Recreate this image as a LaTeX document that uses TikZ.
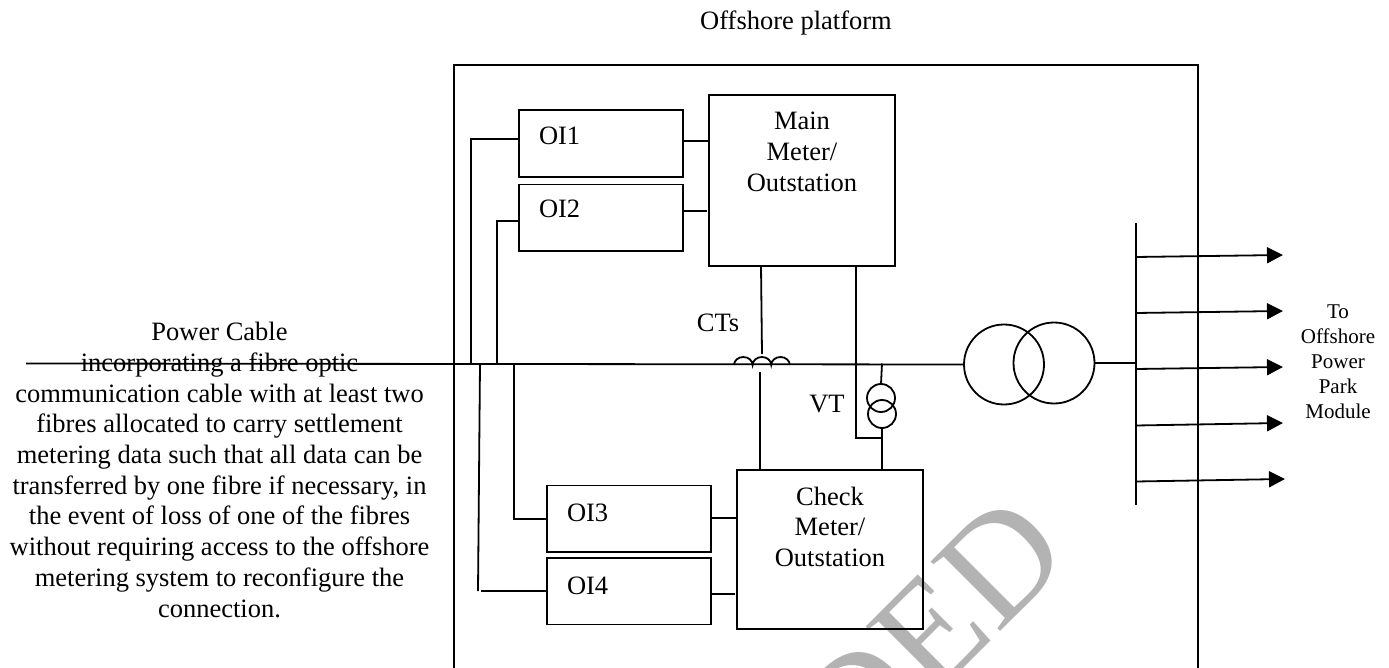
\documentclass[tikz,border=0pt]{standalone}
\usepackage{fontspec}
\setmainfont{Liberation Serif}
\usetikzlibrary{arrows.meta}
\definecolor{wm}{HTML}{B3B3B3}
\newcommand{\bigtxt}{\fontsize{26.5}{30.7}\selectfont}
\newcommand{\smalltxt}{\fontsize{21}{24.8}\selectfont}
\tikzset{
  x=1pt,y=-1pt,
  wire/.style={line width=1.8pt,line cap=butt,line join=miter},
  feeder/.style={wire,-{Triangle[length=16pt,width=16pt]},shorten >=-1pt},
  lbl/.style={font=\bigtxt,inner sep=0pt,outer sep=0pt,anchor=base},
  oibox/.style 2 args={draw,wire,anchor=north west,outer sep=0pt,inner xsep=20pt,inner ysep=0pt,
     text width=124pt,align=left,font=\bigtxt,text height=#1pt,text depth=#2pt},
  meterbox/.style 2 args={draw,wire,anchor=north west,outer sep=0pt,inner sep=0pt,
     text width=186pt,align=center,font=\bigtxt,text height=#1pt,text depth=#2pt},
  circ/.style={draw,wire,circle,inner sep=0pt,outer sep=0pt,minimum size=#1pt},
}
\begin{document}
\begin{tikzpicture}
\useasboundingbox (0,0) rectangle (1389,668);
% watermark (behind everything)
\node[font=\fontsize{150}{150}\selectfont,text=wm,rotate=45,anchor=base east,inner sep=0pt] (wmark) at (1074,558) {DED};
% platform outline
\draw[wire] (454,668) -- (454,65) -- (1198,65) -- (1198,668);
\node[lbl] (title) at (796,30) {Offshore platform};
% boxes
\node[oibox={35}{32}] (oi1) at (519,110) {OI1};
\node[oibox={33.5}{33}] (oi2) at (519,184.5) {OI2};
\node[oibox={36}{30.5}] (oi3) at (547,485.5) {OI3};
\node[oibox={36}{30.5}] (oi4) at (547,558) {OI4};
\node[meterbox={35}{136}] (main) at (709,95) {Main\\Meter/\\Outstation};
\node[meterbox={35}{124}] (check) at (737,470) {Check\\Meter/\\Outstation};
% transformer
\node[circ=80] (tx1) at (1004,364.5) {};
\node[circ=81] (tx2) at (1054,363) {};
% voltage transformer
\node[circ=28] (vt1) at (881,398) {};
\node[circ=28] (vt2) at (882,414) {};
% cable
\coordinate (cableend) at (26,363.5);
\draw[wire] (cableend) -- (tx1.west);
\draw[wire] (tx2.east) -- (1136,363);
% busbar
\coordinate (bustop) at (1136,223);
\coordinate (busbot) at (1136,505);
\draw[wire] (bustop) -- (busbot);
% CT coil
\coordinate (ctl) at (734,365);
\draw[wire] (ctl) arc[start angle=180,end angle=0,x radius=9.3pt,y radius=8pt]
   arc[start angle=180,end angle=0,x radius=9.3pt,y radius=8pt]
   arc[start angle=180,end angle=0,x radius=9.3pt,y radius=8pt];
% taps on cable
\coordinate (t1) at (471,363.5);
\coordinate (t2) at (497,363.5);
\coordinate (t3) at (480,363.5);
\coordinate (t4) at (514,363.5);
\coordinate (t4c) at (478,591);
\draw[wire] (oi1.west |- 0,139) -| (t1);
\draw[wire] (oi2.west |- 0,221) -| (t2);
\draw[wire] (t3) -- (t4c);
\draw[wire] (oi4.west |- 0,591) -- (481,591);
\draw[wire] (t4) |- (oi3.west |- 0,519);
% OI to meters
\draw[wire] (682,141) -- (main.west |- 0,141);
\draw[wire] (oi2.east |- 0,211) -- (707,211);
\draw[wire] (710,518) -- (check.west |- 0,518);
\draw[wire] (710,594) -- (735,594);
% metering connections
\coordinate (ctup) at (762,354);
\coordinate (ctdn) at (760,372);
\draw[wire] (761,266) -- (ctup);
\draw[wire] (ctdn) -- (760,470);
\coordinate (vtt) at (882,363.5);
\coordinate (vtj) at (882,438);
\draw[wire] (856,266) -- (856,438) -- (vtj);
\draw[wire] (vtt) -- (vt1.north);
\draw[wire] (vt2.south) -- (882,470);
% feeders
\foreach \n/\a/\b/\e in {1/257/255/1282,2/313/311/1282,3/369/367/1282,4/425.5/423/1282,5/481.5/479/1284}{
  \coordinate (fs\n) at (1136,\a);
  \coordinate (fe\n) at (\e,\b);
  \draw[feeder] (fs\n) -- (fe\n);
}
% labels
\node[lbl] (cts) at (718,331) {CTs};
\node[lbl] (vt) at (827,412) {VT};
\node[font=\smalltxt,align=center,inner sep=0pt,anchor=base] (park) at (1338,418) {To\\Offshore\\Power\\Park\\Module};
\node[font=\bigtxt,align=center,inner sep=0pt,anchor=base] (cabletxt) at (219.5,617) {Power Cable\\incorporating a fibre optic\\communication cable with at least two\\fibres allocated to carry settlement\\metering data such that all data can be\\transferred by one fibre if necessary, in\\the event of loss of one of the fibres\\without requiring access to the offshore\\metering system to reconfigure the\\connection.};
\end{tikzpicture}
\end{document}
